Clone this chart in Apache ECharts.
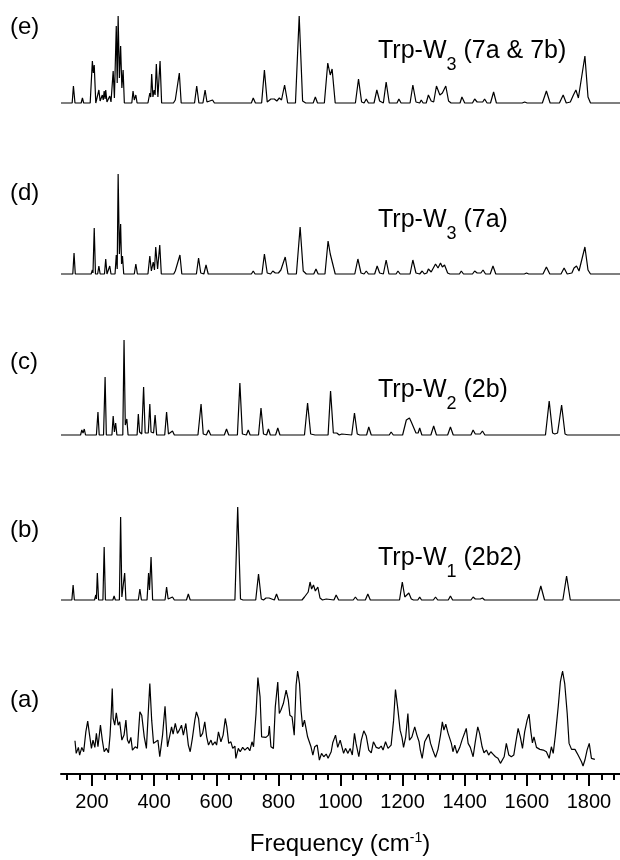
<!DOCTYPE html>
<html>
<head>
<meta charset="utf-8">
<script src="https://cdn.jsdelivr.net/npm/echarts@6/dist/echarts.min.js"></script>
<style>
  html, body { margin: 0; padding: 0; background: #fff; }
  #main { width: 620px; height: 860px; }
</style>
</head>
<body>
<div id="main"></div>
<script>
// frequency axis (cm-1)
const majorTicks = [200, 400, 600, 800, 1000, 1200, 1400, 1600, 1800];
const minorTicks = [120, 160, 240, 280, 320, 360, 440, 480, 520, 560, 640, 680, 720, 760,
  840, 880, 920, 960, 1040, 1080, 1120, 1160, 1240, 1280, 1320, 1360, 1440, 1480, 1520, 1560,
  1640, 1680, 1720, 1760, 1840, 1880];

const panelLabels = ['(e)', '(d)', '(c)', '(b)', '(a)'];
const specNames = [
  ['Trp-W', '3', ' (7a & 7b)'],
  ['Trp-W', '3', ' (7a)'],
  ['Trp-W', '2', ' (2b)'],
  ['Trp-W', '1', ' (2b2)']
];

// (e) Trp-W3 (7a & 7b), [frequency, intensity]
const specE = [
  [100,0],[136,0],[140,17],[142,18],[145,0],[165,0],[169,5],[173,0],
  [194,0],[201,42],[204,30],[207,38],[212,0],
  [218,0],[222,13],[226,2],[233,8],[236,3],[239,12],[242,4],[244,13],[248,1],[253,0],[257,7],[261,1],
  [265,2],[268,32],[272,5],[278,77],[281,20],[284,87],[288,25],[292,57],[296,15],[300,33],[304,0],
  [328,0],[332,12],[336,3],[341,8],[345,0],
  [380,0],[386,10],[389,6],[392,29],[396,6],[400,13],[403,8],[407,39],[412,6],[419,42],[424,0],
  [433,0],[437,2],[441,0],[462,0],[468,3],[472,1],[481,30],[487,0],
  [530,0],[537,17],[544,0],[557,0],[564,13],[570,1],[588,3],[594,0],
  [630,0],[636,1],[642,0],[673,0],[679,2],[685,0],[713,0],[719,5],[726,0],
  [746,0],[755,33],[764,1],[776,4],[782,2],[787,4],[795,2],[803,5],[810,3],[820,18],[830,0],
  [855,0],[867,87],[878,2],[888,0],[912,0],[919,6],[926,0],
  [948,0],[959,40],[967,28],[973,34],[983,0],
  [1048,0],[1058,24],[1068,1],[1076,0],[1083,4],[1090,0],
  [1108,0],[1117,13],[1126,2],[1138,0],[1147,21],[1157,0],[1182,0],[1188,4],[1195,0],
  [1224,0],[1233,18],[1243,1],[1255,0],[1260,3],[1266,0],[1276,0],[1283,8],[1292,2],[1300,1],
  [1309,17],[1320,8],[1328,10],[1339,17],[1348,2],[1356,0],
  [1385,0],[1391,6],[1400,0],[1425,0],[1432,4],[1440,1],[1458,1],[1464,4],[1472,0],
  [1483,0],[1493,11],[1502,0],[1585,0],[1593,1],[1601,0],
  [1650,0],[1663,12],[1675,0],[1705,0],[1717,8],[1727,0],[1740,1],[1750,8],[1758,13],[1766,5],
  [1772,6],[1787,47],[1797,6],[1805,0],[1900,0]
];

// (d) Trp-W3 (7a)
const specD = [
  [100,0],[138,0],[142,21],[146,0],[197,0],[201,4],[203,1],[207,46],[211,0],
  [218,0],[222,8],[226,0],[240,0],[244,15],[248,0],[253,0],[257,8],[261,0],
  [274,0],[278,19],[281,5],[284,100],[288,20],[292,50],[295,10],[298,18],[302,0],
  [336,0],[341,10],[346,0],
  [380,0],[386,18],[391,3],[397,12],[401,4],[405,27],[411,5],[418,29],[423,0],
  [431,0],[435,2],[439,0],[463,0],[468,3],[473,1],[483,19],[489,0],
  [536,0],[543,16],[550,1],[560,0],[567,9],[574,0],
  [630,0],[636,1],[642,0],[673,0],[679,2],[685,0],[713,0],[719,3],[725,0],
  [747,0],[755,20],[764,1],[775,0],[782,3],[790,1],[800,1],[808,4],[814,2],[822,17],[831,0],
  [858,0],[870,47],[880,3],[890,0],[914,0],[921,5],[928,0],
  [950,0],[960,33],[967,20],[973,22],[983,0],
  [1046,0],[1056,15],[1066,1],[1076,0],[1083,3],[1090,0],
  [1110,0],[1118,8],[1126,1],[1138,0],[1147,14],[1156,0],[1179,0],[1185,3],[1192,0],
  [1224,0],[1233,14],[1243,1],[1255,0],[1263,3],[1270,0],[1278,1],[1283,5],[1292,2],[1298,3],
  [1306,10],[1314,6],[1322,11],[1328,7],[1335,9],[1345,1],[1352,0],
  [1383,0],[1389,3],[1396,0],[1425,0],[1432,3],[1440,1],[1452,1],[1459,4],[1467,0],
  [1482,0],[1491,8],[1500,0],[1592,0],[1599,1],[1606,0],
  [1652,0],[1663,7],[1674,0],[1710,0],[1720,6],[1730,0],[1745,1],[1752,6],[1760,8],[1768,3],
  [1774,5],[1787,27],[1797,4],[1805,0],[1900,0]
];

// (c) Trp-W2 (2b)
const specC = [
  [100,0],[163,0],[167,5],[171,2],[175,6],[179,0],[214,0],[219,23],[223,0],
  [237,0],[242,58],[246,0],[264,0],[268,19],[272,3],[276,12],[280,0],
  [299,0],[303,95],[307,10],[312,16],[316,0],
  [345,0],[349,21],[353,3],[360,1],[366,48],[371,2],[381,2],[386,31],[390,3],[398,2],[403,20],[408,0],
  [434,0],[440,23],[446,1],[452,0],[459,4],[465,0],
  [510,0],[515,2],[520,0],[531,0],[536,2],[541,0],
  [544,0],[551,31],[558,1],[568,0],[575,5],[582,0],[626,0],[633,6],[640,0],
  [668,0],[676,52],[684,1],[697,0],[703,5],[709,0],
  [736,0],[744,27],[752,1],[762,0],[768,6],[774,0],[791,0],[798,7],[805,0],
  [831,0],[837,2],[843,0],[884,0],[894,32],[904,1],[918,0],
  [960,0],[968,44],[977,2],[983,1],[988,2],[996,0],[1004,1],[1010,0],
  [1036,0],[1045,22],[1054,1],[1062,0],[1084,0],[1091,8],[1099,0],
  [1110,0],[1115,2],[1120,0],[1157,0],[1163,3],[1170,0],
  [1200,0],[1212,15],[1216,13],[1222,17],[1228,13],[1233,12],[1243,2],[1250,2],[1255,7],[1262,0],
  [1291,0],[1300,9],[1309,0],[1345,0],[1354,8],[1363,0],
  [1420,0],[1427,5],[1434,1],[1450,1],[1457,4],[1465,0],[1544,0],[1550,2],[1556,0],
  [1660,0],[1672,34],[1683,2],[1690,1],[1699,2],[1712,30],[1723,1],[1730,0],[1900,0]
];

// (b) Trp-W1 (2b2)
const specB = [
  [100,0],[135,0],[139,15],[143,0],[150,0],[153,2],[156,0],[174,0],[177,2],[180,0],
  [208,0],[212,5],[214,1],[217,27],[221,0],[235,0],[239,53],[243,0],[267,0],[271,4],[275,0],
  [288,0],[292,83],[296,3],[301,2],[305,27],[309,0],[349,0],[354,11],[359,0],
  [377,0],[382,27],[385,10],[390,43],[395,0],
  [435,0],[440,13],[445,1],[451,0],[459,3],[465,0],[504,0],[510,6],[516,0],
  [569,0],[574,2],[579,0],[615,0],[620,1],[625,0],
  [660,0],[669,93],[678,1],[686,0],
  [727,0],[736,26],[745,1],[752,0],[760,2],[765,1],[770,2],[775,0],[787,0],[794,6],[801,0],
  [840,0],[846,2],[852,0],
  [876,0],[884,3],[890,2],[896,8],[902,18],[907,11],[913,15],[919,9],[927,13],[934,2],[942,0],
  [948,0],[954,1],[960,0],[979,0],[986,5],[994,0],
  [1041,0],[1048,3],[1055,0],[1080,0],[1088,6],[1096,0],
  [1110,0],[1115,2],[1120,0],[1154,0],[1160,2],[1166,0],
  [1190,0],[1199,18],[1207,3],[1213,4],[1220,7],[1228,1],[1235,0],
  [1249,0],[1255,3],[1261,0],[1299,0],[1306,3],[1313,0],[1347,0],[1354,4],[1361,0],
  [1420,0],[1427,3],[1434,1],[1450,1],[1457,2],[1464,0],[1545,0],[1550,1],[1555,0],
  [1633,0],[1645,14],[1657,0],[1716,0],[1728,24],[1740,0],[1900,0]
];

// (a) experimental spectrum
const specA = [
  [145,33.3],[149,20.7],[156,26.7],[160,19],[167,26.7],[173,22.3],[180,42.3],[186,53],[192,39],
  [198,25.7],[203,34],[209,26.7],[214,40.7],[219,27.3],[227,49],[233,34],[239,22.3],[246,25.7],
  [253,21.3],[258,39],[262,62.3],[265,85.7],[268,55.7],[273,49],[278,61.3],[284,49],[289,52.3],
  [296,34],[303,39],[309,54],[314,34],[319,30.7],[325,36.7],[330,24],[339,27.3],[346,25.7],
  [354,62.3],[360,59],[368,37.3],[375,25.7],[382,67.3],[386,90.7],[392,54],[398,30.7],[405,32.3],
  [412,34],[418,17.3],[427,39],[435,68],[443,27.3],[448,25.7],[456,47.3],[461,40],[468,50.7],
  [475,40.7],[481,44],[488,49],[494,39],[502,50.7],[510,29],[516,22.3],[523,35.7],[531,54],
  [536,62.3],[543,55.7],[549,37.3],[556,40.7],[563,52.3],[569,37.3],[575,29],[583,34],[588,29],
  [596,32.3],[601,29],[607,42.3],[615,32.3],[622,39],[629,55.7],[634,47.3],[640,30.7],[647,32.3],
  [653,25.7],[660,28],[663,15.7],[671,25.7],[677,22.3],[685,26.7],[692,24],[701,26.7],[708,23.3],
  [715,32.3],[720,27.3],[728,60.7],[734,96.7],[741,77.3],[746,37.3],[752,39],[760,36.7],[768,39],
  [771,48],[776,27.3],[784,25.7],[790,67.3],[798,92.3],[803,60.7],[808,64],[816,70.7],[825,84],
  [832,74],[837,59],[844,57.3],[851,39],[857,89],[862,103.3],[868,90.7],[873,64],[878,47.3],
  [884,54],[889,45.7],[894,37.3],[900,39],[905,27.3],[911,19],[917,27.3],[925,29],[932,14],
  [939,20.7],[946,17.3],[954,20],[960,15.7],[965,19],[970,22.3],[975,31.3],[984,39],[991,26.7],
  [999,34],[1004,35.7],[1010,20.7],[1016,25.7],[1024,20.7],[1031,25.7],[1038,19],[1045,40.7],
  [1050,30.7],[1059,17.3],[1067,34],[1075,43.3],[1083,38],[1091,24],[1099,21.3],[1106,32.3],
  [1115,26.7],[1124,25.7],[1131,28],[1137,24],[1145,32.3],[1153,25.7],[1163,29],[1171,54],
  [1177,84.7],[1185,64],[1192,44],[1198,36.7],[1203,26.7],[1210,37.3],[1217,60.7],[1222,34],
  [1230,37.3],[1239,47.3],[1246,39],[1253,32.3],[1257,24],[1263,15.7],[1271,32.3],[1276,31.3],
  [1284,40],[1290,30.7],[1298,23.3],[1306,16.7],[1314,24.7],[1322,39],[1328,52.3],[1333,44],
  [1339,50],[1346,41.3],[1351,42.3],[1357,30.7],[1362,22.3],[1368,29],[1375,20.7],[1384,26.7],
  [1392,34.7],[1400,41.3],[1405,45.7],[1411,30.7],[1418,26.7],[1427,17.3],[1434,32.3],[1442,47.3],
  [1448,40.7],[1456,27.3],[1462,21.3],[1470,24],[1477,19],[1484,22.3],[1491,20],[1499,17.3],
  [1507,15.7],[1515,10.7],[1521,10],[1527,17.3],[1534,30.7],[1542,19],[1550,17.3],[1558,19],
  [1564,30.7],[1572,45.7],[1579,37.3],[1586,25.7],[1593,42.3],[1601,54],[1607,60],[1613,42.3],
  [1618,31.3],[1623,37.3],[1631,26.7],[1642,24.7],[1653,24],[1663,22.3],[1672,15.7],[1679,27.3],
  [1685,20.7],[1692,39],[1701,67.3],[1708,92.3],[1715,103.3],[1722,90.7],[1730,60.7],[1736,30.7],
  [1744,24.7],[1755,24.7],[1765,19],[1776,12.3],[1781,8],[1787,14],[1794,24],[1801,30.7],
  [1808,15.7],[1819,14.7]
];

const spectra = [specE, specD, specC, specB, specA];

const FONT = '"Liberation Sans", Arial, sans-serif';
// panel layout: top and height of each stacked plot
const panels = [
  { top: 16, height: 87, max: 87 },
  { top: 174, height: 100, max: 100 },
  { top: 340, height: 95, max: 95 },
  { top: 507, height: 93, max: 93 },
  { top: 671, height: 103, max: 103.3 }
];
const labelY = [27, 193, 362, 530, 700];
const nameTop = [39, 208, 378, 546];

const chart = echarts.init(document.getElementById('main'), null, { renderer: 'canvas' });

const grids = panels.map(p => ({ left: 61, right: 0, top: p.top, height: p.height }));
const xAxes = panels.map((p, i) => ({
  type: 'value', gridIndex: i, min: 100, max: 1900,
  show: i === panels.length - 1,
  axisLine: { show: true, onZero: false, lineStyle: { color: '#000', width: 2 } },
  axisTick: { show: true, customValues: majorTicks, length: 12, lineStyle: { color: '#000', width: 2 } },
  axisLabel: {
    show: true, customValues: majorTicks, margin: 18, color: '#000', fontSize: 20, fontFamily: FONT,
    formatter: v => String(v)
  },
  splitLine: { show: false }
}));
// minor ticks on the bottom axis
xAxes.push({
  type: 'value', gridIndex: panels.length - 1, min: 100, max: 1900, position: 'bottom',
  axisLine: { show: false },
  axisTick: { show: true, customValues: minorTicks, length: 6, lineStyle: { color: '#000', width: 2 } },
  axisLabel: { show: false },
  splitLine: { show: false }
});
const yAxes = panels.map((p, i) => ({
  type: 'value', gridIndex: i, min: 0, max: p.max, show: false, splitLine: { show: false }
}));
const series = spectra.map((d, i) => ({
  type: 'line', xAxisIndex: i, yAxisIndex: i, data: d,
  showSymbol: false, symbol: 'none', smooth: false, clip: false, silent: true,
  lineStyle: { color: '#000', width: 1.2 }
}));

const graphic = [];
panelLabels.forEach((t, i) => {
  graphic.push({
    type: 'text', x: 10, y: labelY[i],
    style: { text: t, font: '24px ' + FONT, fill: '#000', verticalAlign: 'middle' }
  });
});
specNames.forEach((n, i) => {
  graphic.push({
    type: 'text', x: 378, y: nameTop[i],
    style: {
      text: '{a|' + n[0] + '}{s|' + n[1] + '}{a|' + n[2] + '}',
      verticalAlign: 'top',
      rich: {
        a: { fontSize: 25, lineHeight: 26, fontFamily: FONT, color: '#000', verticalAlign: 'top' },
        s: { fontSize: 18, lineHeight: 18, fontFamily: FONT, color: '#000', verticalAlign: 'top', padding: [17, 0, 0, 0] }
      }
    }
  });
});
graphic.push({
  type: 'text', x: 340, y: 824,
  style: {
    text: '{a|Frequency (cm}{s|-1}{a|)}',
    align: 'center', verticalAlign: 'top',
    rich: {
      a: { fontSize: 24, lineHeight: 24, fontFamily: FONT, color: '#000', verticalAlign: 'top', padding: [8, 0, 0, 0] },
      s: { fontSize: 14, lineHeight: 15, fontFamily: FONT, color: '#000', verticalAlign: 'top', padding: [7, 0, 0, 0] }
    }
  }
});

chart.setOption({
  animation: false,
  backgroundColor: '#fff',
  grid: grids,
  xAxis: xAxes,
  yAxis: yAxes,
  series: series,
  graphic: graphic
});
</script>
</body>
</html>
